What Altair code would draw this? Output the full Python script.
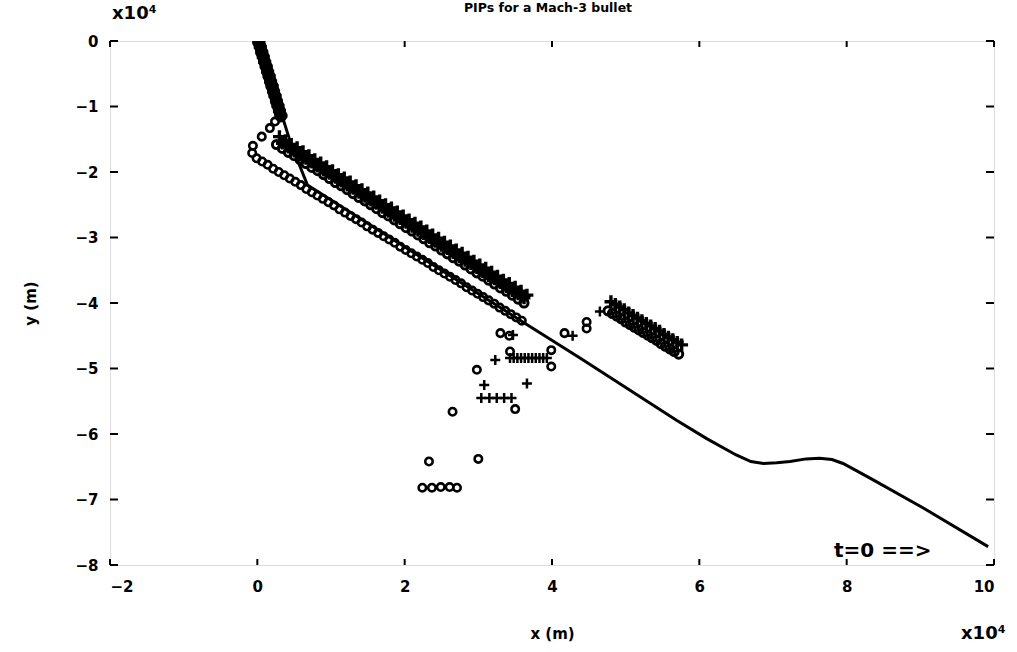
import altair as alt
import pandas as pd

FONT = "DejaVu Sans"

title_text = "PIPs for a Mach-3 bullet"
x_title = "x (m)"
y_title = "y (m)"
exp_label = "x10⁴"
note_text = "t=0 ==>"

x_ticks = [-2, 0, 2, 4, 6, 8, 10]
y_ticks = [0, -1, -2, -3, -4, -5, -6, -7, -8]

# trajectory (units of 1e4 m)
line_x = [0.02, 0.33, 0.45, 0.68, 3.62, 4.38, 5.69, 6.10, 6.50, 6.70, 6.87, 7.05, 7.23,
          7.45, 7.63, 7.80, 7.95, 8.15, 8.36, 9.04, 9.92]
line_y = [0.0, -1.12, -1.55, -2.20, -4.30, -4.84, -5.79, -6.07, -6.32, -6.42, -6.45, -6.44,
          -6.42, -6.38, -6.37, -6.39, -6.45, -6.57, -6.70, -7.13, -7.72]

# PIPs along the steep first leg
steep_x = [0.02, 0.04, 0.06, 0.08, 0.10, 0.12, 0.14, 0.16, 0.18, 0.20, 0.22, 0.24,
           0.26, 0.28, 0.30, 0.32]
steep_y = [-0.02, -0.09, -0.17, -0.24, -0.32, -0.39, -0.47, -0.54, -0.62, -0.69,
           -0.77, -0.84, -0.92, -0.99, -1.07, -1.14]

top_circ_x = [0.06, 0.17, 0.24, -0.06, -0.07]
top_circ_y = [-1.46, -1.33, -1.23, -1.60, -1.71]

# upper dense band: three rows
band_plus_x = [0.30, 0.38, 0.46, 0.54, 0.62, 0.70, 0.78, 0.86, 0.94, 1.02, 1.10, 1.18,
               1.26, 1.34, 1.42, 1.50, 1.58, 1.66, 1.74, 1.82, 1.90, 1.98, 2.06, 2.14,
               2.22, 2.30, 2.38, 2.46, 2.54, 2.62, 2.70, 2.78, 2.86, 2.94, 3.02, 3.10,
               3.18, 3.26, 3.34, 3.42, 3.50, 3.58, 3.66]
band_plus_y = [-1.46, -1.52, -1.58, -1.63, -1.69, -1.75, -1.81, -1.86, -1.92, -1.98,
               -2.04, -2.09, -2.15, -2.21, -2.27, -2.32, -2.38, -2.44, -2.50, -2.55,
               -2.61, -2.67, -2.73, -2.78, -2.84, -2.90, -2.96, -3.01, -3.07, -3.13,
               -3.19, -3.24, -3.30, -3.36, -3.42, -3.47, -3.53, -3.59, -3.65, -3.70,
               -3.76, -3.82, -3.88]
band_mid_x = [0.34, 0.42, 0.50, 0.58, 0.66, 0.74, 0.82, 0.90, 0.98, 1.06, 1.14, 1.22,
              1.30, 1.38, 1.46, 1.54, 1.62, 1.70, 1.78, 1.86, 1.94, 2.02, 2.10, 2.18,
              2.26, 2.34, 2.42, 2.50, 2.58, 2.66, 2.74, 2.82, 2.90, 2.98, 3.06, 3.14,
              3.22, 3.30, 3.38, 3.46, 3.54, 3.62]
band_mid_y = [-1.56, -1.62, -1.68, -1.74, -1.79, -1.85, -1.91, -1.97, -2.02, -2.08,
              -2.14, -2.20, -2.25, -2.31, -2.37, -2.43, -2.48, -2.54, -2.60, -2.66,
              -2.71, -2.77, -2.83, -2.89, -2.94, -3.00, -3.06, -3.12, -3.17, -3.23,
              -3.29, -3.35, -3.40, -3.46, -3.52, -3.58, -3.63, -3.69, -3.75, -3.81,
              -3.86, -3.92]
band_circ_x = [0.26, 0.34, 0.42, 0.50, 0.58, 0.66, 0.74, 0.82, 0.90, 0.98, 1.06, 1.14,
               1.22, 1.30, 1.38, 1.46, 1.54, 1.62, 1.70, 1.78, 1.86, 1.94, 2.02, 2.10,
               2.18, 2.26, 2.34, 2.42, 2.50, 2.58, 2.66, 2.74, 2.82, 2.90, 2.98, 3.06,
               3.14, 3.22, 3.30, 3.38, 3.46, 3.54, 3.62]
band_circ_y = [-1.58, -1.64, -1.70, -1.75, -1.81, -1.87, -1.93, -1.98, -2.04, -2.10,
               -2.16, -2.21, -2.27, -2.33, -2.39, -2.44, -2.50, -2.56, -2.62, -2.67,
               -2.73, -2.79, -2.85, -2.90, -2.96, -3.02, -3.08, -3.13, -3.19, -3.25,
               -3.31, -3.36, -3.42, -3.48, -3.54, -3.59, -3.65, -3.71, -3.77, -3.82,
               -3.88, -3.94, -4.00]

# lower chain of circles
lower_circ_x = [-0.01, 0.065, 0.14, 0.215, 0.29, 0.365, 0.44, 0.515, 0.59, 0.665, 0.74,
                0.815, 0.89, 0.965, 1.04, 1.115, 1.19, 1.265, 1.34, 1.415, 1.49, 1.565,
                1.64, 1.715, 1.79, 1.865, 1.94, 2.015, 2.09, 2.165, 2.24, 2.315, 2.39,
                2.465, 2.54, 2.615, 2.69, 2.765, 2.84, 2.915, 2.99, 3.065, 3.14, 3.215,
                3.29, 3.365, 3.44, 3.515, 3.59]
lower_circ_y = [-1.79, -1.84, -1.89, -1.95, -2.00, -2.05, -2.10, -2.15, -2.20, -2.26,
                -2.31, -2.36, -2.41, -2.46, -2.51, -2.57, -2.62, -2.67, -2.72, -2.77,
                -2.83, -2.88, -2.93, -2.98, -3.03, -3.08, -3.14, -3.19, -3.24, -3.29,
                -3.34, -3.39, -3.45, -3.50, -3.55, -3.60, -3.65, -3.70, -3.76, -3.81,
                -3.86, -3.91, -3.96, -4.01, -4.07, -4.12, -4.17, -4.22, -4.27]

# scattered PIPs
scatter_circ_x = [3.30, 3.42, 2.98, 2.65, 2.33, 3.00, 2.24, 2.37, 2.49, 2.61, 2.71, 3.50,
                  3.43, 3.99, 3.99, 4.17, 4.47, 4.47]
scatter_circ_y = [-4.46, -4.50, -5.02, -5.66, -6.42, -6.38, -6.82, -6.82, -6.81, -6.81,
                  -6.82, -5.62, -4.74, -4.72, -4.97, -4.46, -4.29, -4.39]
scatter_plus_x = [3.23, 3.08, 3.66, 3.04, 3.15, 3.25, 3.35, 3.45, 3.47, 3.43, 3.48, 3.53,
                  3.58, 3.63, 3.68, 3.73, 3.78, 3.83, 3.88, 3.93, 4.28, 4.65]
scatter_plus_y = [-4.87, -5.25, -5.23, -5.45, -5.45, -5.45, -5.45, -5.45, -4.49, -4.84,
                  -4.84, -4.84, -4.84, -4.84, -4.84, -4.84, -4.84, -4.84, -4.84, -4.84,
                  -4.50, -4.13]

# right-hand band
right_plus_x = [4.80, 4.86, 4.92, 4.98, 5.04, 5.10, 5.16, 5.22, 5.28, 5.34, 5.40, 5.46,
                5.52, 5.58, 5.64, 5.70, 5.76]
right_plus_y = [-3.98, -4.02, -4.06, -4.10, -4.15, -4.19, -4.23, -4.27, -4.31, -4.35,
                -4.39, -4.43, -4.48, -4.52, -4.56, -4.60, -4.64]
right_circ_x = [4.76, 4.82, 4.88, 4.94, 5.00, 5.06, 5.12, 5.18, 5.24, 5.30, 5.36, 5.42,
                5.48, 5.54, 5.60, 5.66, 5.72]
right_circ_y = [-4.12, -4.16, -4.20, -4.24, -4.29, -4.33, -4.37, -4.41, -4.45, -4.49,
                -4.53, -4.57, -4.62, -4.66, -4.70, -4.74, -4.78]

W, H = 884, 524

line_df = pd.DataFrame({"x": line_x, "y": line_y, "i": list(range(len(line_x)))})
steep_df = pd.DataFrame({"x": steep_x, "y": steep_y})
heavy_plus_df = pd.DataFrame({
    "x": band_plus_x + band_mid_x + right_plus_x,
    "y": band_plus_y + band_mid_y + right_plus_y,
})
heavy_circ_df = pd.DataFrame({
    "x": band_circ_x + right_circ_x,
    "y": band_circ_y + right_circ_y,
})
plus_df = pd.DataFrame({"x": scatter_plus_x, "y": scatter_plus_y})
circ_df = pd.DataFrame({
    "x": top_circ_x + lower_circ_x + scatter_circ_x,
    "y": top_circ_y + lower_circ_y + scatter_circ_y,
})
xt_df = pd.DataFrame({"v": x_ticks})
yt_df = pd.DataFrame({"v": y_ticks})

xs = alt.Scale(domain=[-2, 10], nice=False, zero=False)
ys = alt.Scale(domain=[-8, 0], nice=False, zero=False)

lab = dict(labelFont=FONT, labelFontSize=15, labelFontWeight="bold", labelColor="black",
           titleFont=FONT, titleFontSize=15, titleFontWeight="bold", titleColor="black",
           domain=False, ticks=False, grid=False)

X = alt.X("x:Q", scale=xs, axis=alt.Axis(values=x_ticks, format="d", title=x_title,
                                         labelPadding=14, titlePadding=32, **lab))
Y = alt.Y("y:Q", scale=ys, axis=alt.Axis(values=y_ticks, format="d", title=y_title,
                                         labelPadding=12, titlePadding=36, **lab))

line = alt.Chart(line_df).mark_line(color="black", strokeWidth=3, clip=True).encode(
    x=X, y=Y, order="i:Q")

PLUS = "M-1,0L1,0M0,-1L0,1"
enc = dict(x=alt.X("x:Q", scale=xs), y=alt.Y("y:Q", scale=ys))
steep_plus = alt.Chart(steep_df).mark_point(
    shape=PLUS, filled=False, color="black", strokeWidth=4, size=170, opacity=1,
    clip=True).encode(**enc)
steep_circ = alt.Chart(steep_df).mark_point(
    shape="circle", filled=False, color="black", strokeWidth=4, size=80, opacity=1,
    clip=True).encode(**enc)
heavy_plus = alt.Chart(heavy_plus_df).mark_point(
    shape=PLUS, filled=False, color="black", strokeWidth=3.4, size=165, opacity=1,
    clip=True).encode(**enc)
heavy_circ = alt.Chart(heavy_circ_df).mark_point(
    shape="circle", filled=False, color="black", strokeWidth=3, size=66, opacity=1,
    clip=True).encode(**enc)
pluses = alt.Chart(plus_df).mark_point(
    shape=PLUS, filled=False, color="black", strokeWidth=2.5, size=100, opacity=1,
    clip=True).encode(**enc)
circles = alt.Chart(circ_df).mark_point(
    shape="circle", filled=False, color="black", strokeWidth=2.6, size=55, opacity=1,
    clip=True).encode(**enc)

tk = dict(color="black", strokeWidth=2)
left_t = alt.Chart(yt_df).mark_rule(**tk).encode(
    y=alt.Y("v:Q", scale=ys), x=alt.value(0), x2=alt.value(8))
right_t = alt.Chart(yt_df).mark_rule(**tk).encode(
    y=alt.Y("v:Q", scale=ys), x=alt.value(W - 8), x2=alt.value(W))
bot_t = alt.Chart(xt_df).mark_rule(**tk).encode(
    x=alt.X("v:Q", scale=xs), y=alt.value(H - 6), y2=alt.value(H))
top_t = alt.Chart(xt_df).mark_rule(**tk).encode(
    x=alt.X("v:Q", scale=xs), y=alt.value(0), y2=alt.value(6))

txt = dict(font=FONT, fontWeight="bold", color="black")
title = alt.Chart(pd.DataFrame({"t": [title_text]})).mark_text(
    fontSize=12.5, align="center", baseline="middle", **txt).encode(
    text="t:N", x=alt.value(W / 2 - 4), y=alt.value(-33))
exp_top = alt.Chart(pd.DataFrame({"t": [exp_label]})).mark_text(
    fontSize=18, align="left", baseline="middle", **txt).encode(
    text="t:N", x=alt.value(2), y=alt.value(-27))
exp_bot = alt.Chart(pd.DataFrame({"t": [exp_label]})).mark_text(
    fontSize=18, align="left", baseline="middle", **txt).encode(
    text="t:N", x=alt.value(851), y=alt.value(593))
note = alt.Chart(pd.DataFrame({"t": [note_text]})).mark_text(
    fontSize=20, align="left", baseline="middle", **txt).encode(
    text="t:N", x=alt.value(724), y=alt.value(510))

chart = alt.layer(line, steep_plus, steep_circ, heavy_plus, heavy_circ, pluses, circles,
                  left_t, right_t, bot_t, top_t,
                  title, exp_top, exp_bot, note).properties(
    width=W, height=H,
    autosize=alt.AutoSizeParams(type="none"),
    padding={"left": 110, "top": 41, "right": 23, "bottom": 87},
).configure_view(stroke="black", strokeWidth=2.5).configure(background="white")

chart.save("out.html", embed_options={"renderer": "svg", "actions": False})
